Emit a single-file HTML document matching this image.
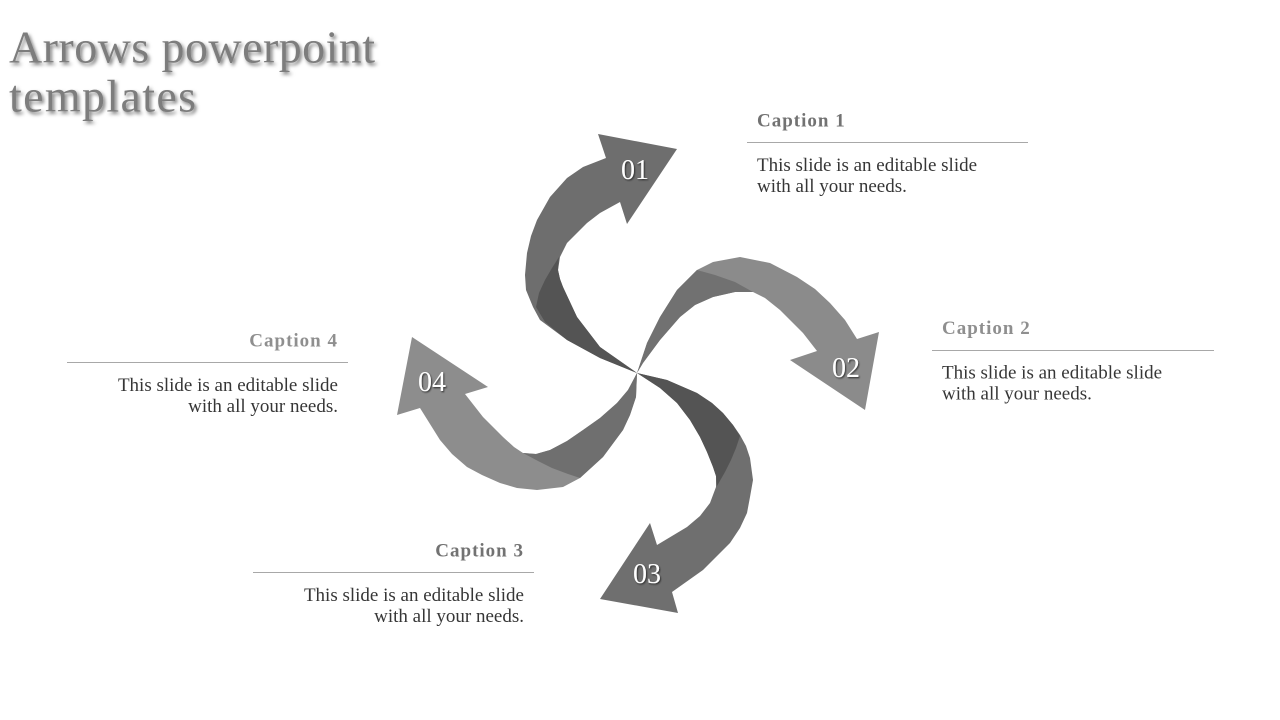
<!DOCTYPE html>
<html>
<head>
<meta charset="utf-8">
<style>
  html, body { margin:0; padding:0; background:#ffffff; }
  body { width:1280px; height:720px; overflow:hidden; }
  svg { display:block; }
  .title { font-family:"Liberation Serif", serif; font-size:46px; fill:#7d7d7d; }
  .cap { font-family:"Liberation Serif", serif; font-size:19px; font-weight:bold; letter-spacing:1px; }
  .body { font-family:"Liberation Serif", serif; font-size:19px; fill:#363636; }
  .num { font-family:"Liberation Serif", serif; font-size:28px; fill:#ffffff; }
</style>
</head>
<body>
<svg width="1280" height="720" viewBox="0 0 1280 720" xmlns="http://www.w3.org/2000/svg">
  <defs>
    <filter id="tsh" x="-10%" y="-30%" width="130%" height="160%">
      <feDropShadow dx="2" dy="2.5" stdDeviation="1.8" flood-color="#000" flood-opacity="0.5"/>
    </filter>
    <filter id="nsh" x="-20%" y="-30%" width="150%" height="160%">
      <feDropShadow dx="1" dy="1.2" stdDeviation="0.7" flood-color="#222" flood-opacity="0.8"/>
    </filter>
  </defs>

  <!-- Title -->
  <g filter="url(#tsh)">
    <text class="title" x="9" y="62.7" textLength="366" lengthAdjust="spacing">Arrows powerpoint</text>
    <text class="title" x="9" y="111.7" textLength="187" lengthAdjust="spacing">templates</text>
  </g>

  <!-- Arrow 1 (top) -->
  <path fill="#6e6e6e" d="M637,373 L600,358 L567,340 L540,320 L533,307 L526,290 L525,275 L527,253 L531,236 L537,220 L550,197 L567,178 L583,167 L606,158 L598,134 L677,149 L627,224 L620,202 L600,213 L587,223 L567,243 L560,257 L558,270 L560,279 L563,287 L570,302 L577,317 L600,347 Z"/>
  <path fill="#545454" d="M637,373 L600,358 L567,340 L545,322 L536,307 L539,293 L545,280 L552,268 L559,257 L558,270 L560,279 L563,287 L570,302 L577,317 L600,347 Z"/>

  <!-- Arrow 2 (right) -->
  <path fill="#8b8b8b" d="M637,373 L647,343 L660,317 L677,290 L697,270 L713,262 L740,257 L770,263 L797,277 L815,289 L830,303 L845,320 L857,339 L879,332 L865,410 L790,360 L817,351 L803,333 L780,310 L765,298 L753,292 L735,292 L713,297 L695,305 L680,317 L660,340 L643,363 Z"/>
  <path fill="#717171" d="M637,373 L647,343 L660,317 L677,290 L697,270 L715,275 L735,282 L753,292 L735,292 L713,297 L695,305 L680,317 L660,340 L643,363 Z"/>

  <!-- Arrow 3 (bottom) -->
  <path fill="#6f6f6f" d="M637,373 L667,380 L697,393 L712,403 L723,413 L733,425 L740,435 L746,446 L750,458 L753,480 L750,497 L747,513 L740,528 L730,543 L703,570 L672,592 L678,613 L600,599 L650,523 L657,545 L687,527 L700,516 L710,503 L716,487 L716,476 L713,467 L707,452 L700,437 L690,420 L677,403 L660,388 Z"/>
  <path fill="#545454" d="M637,373 L667,380 L697,393 L712,403 L723,413 L733,425 L740,436 L736,448 L731,460 L725,472 L717,486 L716,476 L713,467 L707,452 L700,437 L690,420 L677,403 L660,388 Z"/>

  <!-- Arrow 4 (left) -->
  <path fill="#8d8d8d" d="M637,373 L636,397 L630,415 L623,430 L603,457 L580,478 L563,487 L537,490 L517,488 L500,483 L482,475 L467,467 L452,454 L440,440 L420,408 L397,415 L412,337 L488,387 L465,394 L483,417 L503,437 L514,447 L523,453 L536,454 L550,450 L567,441 L583,430 L600,418 L617,403 L628,390 Z"/>
  <path fill="#6f6f6f" d="M637,373 L636,397 L630,415 L623,430 L603,457 L580,478 L568,474 L552,468 L538,461 L523,453 L536,454 L550,450 L567,441 L583,430 L600,418 L617,403 L628,390 Z"/>

  <!-- Number labels -->
  <g filter="url(#nsh)">
    <text class="num" x="635" y="179" text-anchor="middle">01</text>
    <text class="num" x="846" y="377" text-anchor="middle">02</text>
    <text class="num" x="647" y="583" text-anchor="middle">03</text>
    <text class="num" x="432" y="391" text-anchor="middle">04</text>
  </g>

  <!-- Caption 1 -->
  <text class="cap" x="757" y="126.5" fill="#727272">Caption 1</text>
  <line x1="747" y1="142.5" x2="1028" y2="142.5" stroke="#a8a8a8" stroke-width="1"/>
  <text class="body" x="757" y="171">This slide is an editable slide</text>
  <text class="body" x="757" y="192">with all your needs.</text>

  <!-- Caption 2 -->
  <text class="cap" x="942" y="334" fill="#8f8f8f">Caption 2</text>
  <line x1="932" y1="350.5" x2="1214" y2="350.5" stroke="#a8a8a8" stroke-width="1"/>
  <text class="body" x="942" y="378.5">This slide is an editable slide</text>
  <text class="body" x="942" y="399.5">with all your needs.</text>

  <!-- Caption 3 -->
  <text class="cap" x="524" y="556.5" fill="#727272" text-anchor="end">Caption 3</text>
  <line x1="253" y1="572.5" x2="534" y2="572.5" stroke="#a8a8a8" stroke-width="1"/>
  <text class="body" x="524" y="601" text-anchor="end">This slide is an editable slide</text>
  <text class="body" x="524" y="622" text-anchor="end">with all your needs.</text>

  <!-- Caption 4 -->
  <text class="cap" x="338" y="346.5" fill="#8f8f8f" text-anchor="end">Caption 4</text>
  <line x1="67" y1="362.5" x2="348" y2="362.5" stroke="#a8a8a8" stroke-width="1"/>
  <text class="body" x="338" y="391" text-anchor="end">This slide is an editable slide</text>
  <text class="body" x="338" y="412" text-anchor="end">with all your needs.</text>
</svg>
</body>
</html>
